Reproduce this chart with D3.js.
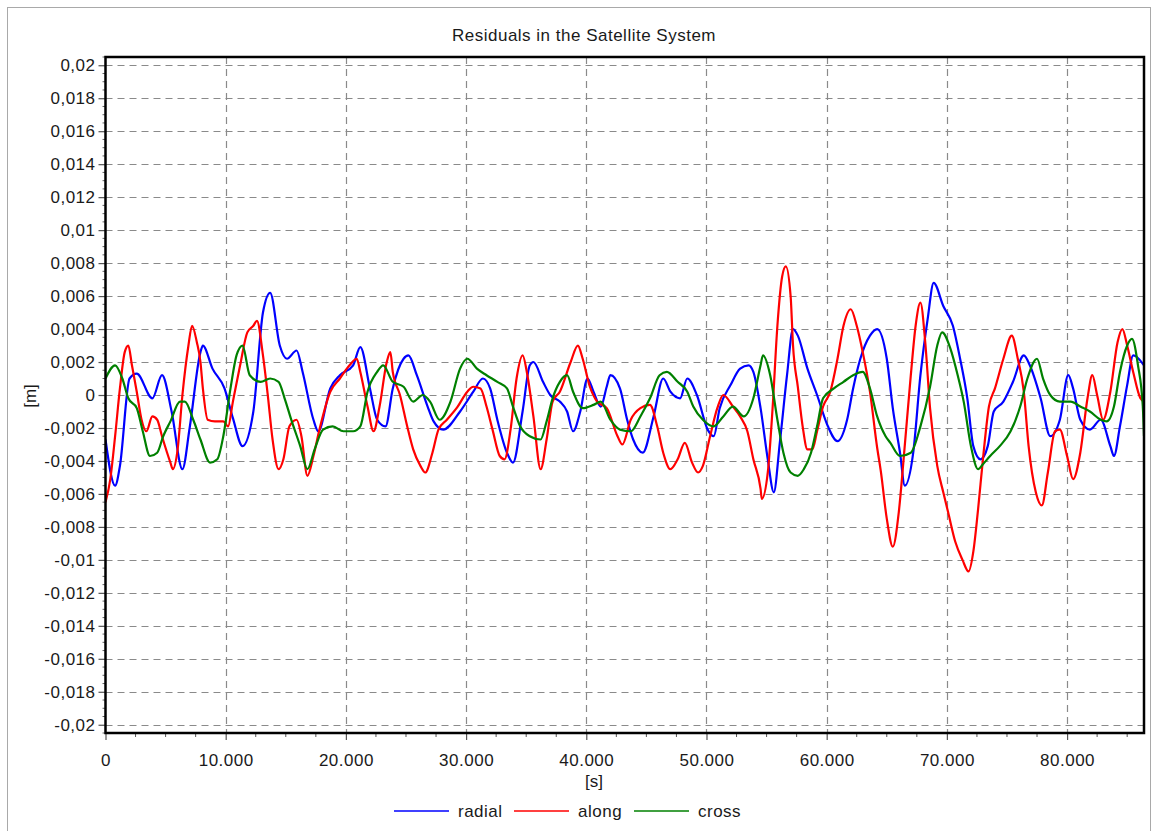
<!DOCTYPE html>
<html>
<head>
<meta charset="utf-8">
<script src="https://cdn.jsdelivr.net/npm/d3@7"></script>
<style>
  html, body { margin: 0; padding: 0; background: #fff; }
  svg { display: block; font-family: "Liberation Sans", Arial, sans-serif; }
</style>
</head>
<body>
<svg id="chart" width="1156" height="831"></svg>
<script>
// Residuals (m) over one day of seconds, per satellite frame component
const radial = [[0,-0.0027],[800,-0.0055],[1200,-0.0043],[2000,0.0010],[2600,0.0013],[3900,-0.0002],[4700,0.0012],[5500,-0.0010],[6400,-0.0045],[7000,-0.0020],[7900,0.0026],[8100,0.0030],[8900,0.0016],[9900,0.0004],[10600,-0.0014],[11400,-0.0031],[12300,-0.0010],[13100,0.0050],[13700,0.0062],[14500,0.0030],[15100,0.0022],[15900,0.0027],[16400,0.0014],[17300,-0.0015],[17700,-0.0022],[18700,0.0004],[19500,0.0012],[20600,0.0018],[21200,0.0029],[22000,0.0004],[22600,-0.0015],[23300,-0.0019],[23900,0.0004],[24800,0.0022],[25200,0.0024],[25900,0.0012],[26800,-0.0007],[27300,-0.0016],[28100,-0.0021],[29500,-0.0010],[30600,0.0002],[31400,0.0010],[32000,0.0004],[32600,-0.0015],[33400,-0.0035],[33900,-0.0041],[34700,-0.0010],[35300,0.0018],[35600,0.0020],[36400,0.0008],[37000,0.0000],[37800,-0.0004],[38400,-0.0010],[38900,-0.0022],[39500,-0.0010],[40100,0.0010],[40600,0.0002],[41200,-0.0007],[41700,0.0005],[42000,0.0012],[42800,0.0004],[43400,-0.0015],[43900,-0.0027],[44700,-0.0035],[45600,-0.0013],[46400,0.0010],[47000,0.0002],[47800,-0.0002],[48400,0.0010],[49200,0.0000],[50100,-0.0021],[50600,-0.0025],[51100,-0.0008],[52000,0.0006],[52800,0.0016],[53500,0.0018],[53900,0.0014],[54500,-0.0008],[55100,-0.0039],[55600,-0.0059],[56100,-0.0029],[56700,0.0012],[57200,0.0040],[57600,0.0036],[58400,0.0016],[59200,0.0000],[60100,-0.0019],[60900,-0.0028],[61700,-0.0015],[62200,0.0004],[62800,0.0022],[63600,0.0036],[64200,0.0040],[65000,0.0022],[65500,-0.0008],[66100,-0.0035],[66500,-0.0055],[67200,-0.0035],[67800,0.0012],[68400,0.0046],[68900,0.0068],[69700,0.0054],[70500,0.0042],[71100,0.0022],[71700,-0.0002],[72200,-0.0031],[72800,-0.0039],[73400,-0.0031],[73900,-0.0010],[74700,-0.0004],[75500,0.0008],[76400,0.0024],[76900,0.0018],[77800,-0.0002],[78600,-0.0025],[79400,-0.0015],[80100,0.0012],[80500,0.0004],[81100,-0.0015],[81900,-0.0021],[82800,-0.0015],[83600,-0.0031],[83900,-0.0037],[84400,-0.0019],[85000,0.0006],[85500,0.0024],[86400,0.0018]];

const along = [[0,-0.0065],[400,-0.0051],[800,-0.0025],[1200,0.0004],[1600,0.0026],[1900,0.0030],[2200,0.0018],[2600,0.0002],[3000,-0.0015],[3400,-0.0022],[3900,-0.0013],[4300,-0.0015],[4700,-0.0025],[5400,-0.0041],[5600,-0.0045],[6000,-0.0033],[6400,0.0000],[6900,0.0030],[7200,0.0042],[7600,0.0032],[7900,0.0020],[8100,0.0004],[8500,-0.0015],[9100,-0.0016],[9800,-0.0016],[10200,-0.0019],[10600,-0.0004],[11200,0.0018],[11800,0.0038],[12300,0.0042],[12600,0.0045],[13100,0.0024],[13500,0.0000],[13900,-0.0027],[14400,-0.0045],[14800,-0.0039],[15300,-0.0019],[15900,-0.0015],[16300,-0.0025],[16800,-0.0049],[17300,-0.0037],[17800,-0.0021],[18700,0.0002],[19500,0.0010],[20300,0.0018],[20900,0.0022],[21200,0.0014],[21800,-0.0007],[22300,-0.0022],[22800,-0.0007],[23400,0.0020],[23700,0.0026],[23900,0.0014],[24500,0.0000],[25100,-0.0019],[25600,-0.0033],[26200,-0.0043],[26600,-0.0047],[27200,-0.0035],[27700,-0.0021],[28400,-0.0015],[29300,-0.0007],[30100,0.0002],[30600,0.0005],[31200,0.0004],[31700,-0.0007],[32200,-0.0021],[32800,-0.0037],[33200,-0.0039],[33700,-0.0021],[34200,0.0010],[34700,0.0024],[35100,0.0012],[35600,-0.0013],[36200,-0.0045],[36700,-0.0027],[37200,-0.0004],[37800,0.0002],[38700,0.0020],[39300,0.0030],[39700,0.0022],[40300,0.0005],[40900,-0.0004],[41700,-0.0008],[42600,-0.0025],[43000,-0.0030],[43700,-0.0015],[44500,-0.0008],[45300,-0.0006],[45900,-0.0019],[46400,-0.0035],[47000,-0.0045],[47600,-0.0039],[48200,-0.0029],[48800,-0.0041],[49300,-0.0047],[49700,-0.0043],[50300,-0.0025],[50900,-0.0008],[51400,0.0000],[52200,-0.0007],[52800,-0.0013],[53400,-0.0022],[53900,-0.0039],[54500,-0.0057],[54600,-0.0063],[55100,-0.0047],[55500,-0.0008],[55900,0.0042],[56300,0.0072],[56600,0.0078],[57000,0.0060],[57200,0.0030],[57600,0.0005],[58000,-0.0019],[58400,-0.0033],[58800,-0.0033],[59200,-0.0022],[59700,-0.0007],[60300,0.0002],[60900,0.0022],[61400,0.0042],[62000,0.0052],[62500,0.0042],[63000,0.0026],[63600,0.0002],[64200,-0.0032],[64500,-0.0046],[65000,-0.0075],[65500,-0.0092],[66000,-0.0071],[66400,-0.0039],[67000,0.0012],[67400,0.0042],[67800,0.0056],[68200,0.0032],[68600,-0.0008],[69200,-0.0043],[69700,-0.0059],[70100,-0.0071],[70700,-0.0089],[71300,-0.0100],[71800,-0.0107],[72200,-0.0095],[72600,-0.0069],[73000,-0.0039],[73500,-0.0007],[74000,0.0004],[74700,0.0022],[75400,0.0036],[75900,0.0022],[76400,0.0002],[76800,-0.0031],[77400,-0.0059],[77900,-0.0067],[78400,-0.0047],[79000,-0.0022],[79400,-0.0021],[80000,-0.0037],[80500,-0.0051],[81100,-0.0035],[81700,-0.0002],[82100,0.0012],[82500,0.0000],[83000,-0.0015],[83600,0.0002],[84200,0.0032],[84600,0.0040],[85000,0.0030],[85500,0.0014],[86100,-0.0002],[86400,-0.0004]];

const cross = [[0,0.0010],[800,0.0018],[1400,0.0010],[1900,-0.0002],[2600,-0.0008],[3100,-0.0022],[3700,-0.0037],[4300,-0.0035],[4800,-0.0025],[5400,-0.0016],[6200,-0.0004],[6600,-0.0004],[7300,-0.0015],[7900,-0.0027],[8700,-0.0041],[9300,-0.0039],[9800,-0.0025],[10400,0.0004],[10900,0.0024],[11400,0.0030],[12000,0.0012],[12900,0.0008],[13700,0.0010],[14400,0.0008],[14900,-0.0002],[15500,-0.0016],[16200,-0.0031],[16800,-0.0045],[17400,-0.0033],[18100,-0.0021],[18900,-0.0019],[19800,-0.0022],[20600,-0.0022],[21200,-0.0019],[21800,0.0002],[22600,0.0014],[23100,0.0018],[23900,0.0008],[24800,0.0005],[25600,-0.0004],[26400,0.0000],[27000,-0.0004],[27800,-0.0015],[28700,-0.0004],[29500,0.0016],[30100,0.0022],[30900,0.0016],[31700,0.0012],[32600,0.0008],[33400,0.0004],[33900,-0.0007],[34500,-0.0019],[35300,-0.0025],[36200,-0.0027],[36700,-0.0016],[37200,-0.0002],[37800,0.0008],[38400,0.0012],[38900,0.0002],[39700,-0.0008],[40600,-0.0006],[41200,-0.0004],[42000,-0.0015],[42800,-0.0021],[43700,-0.0022],[44500,-0.0013],[45300,-0.0002],[46100,0.0012],[46700,0.0014],[47600,0.0008],[48400,0.0002],[48900,-0.0007],[49700,-0.0015],[50600,-0.0019],[51400,-0.0013],[52200,-0.0007],[53100,-0.0013],[53900,-0.0002],[54500,0.0018],[54700,0.0024],[55300,0.0012],[55900,-0.0015],[56400,-0.0035],[57000,-0.0047],[57600,-0.0049],[58100,-0.0045],[58700,-0.0035],[59200,-0.0019],[59700,-0.0002],[60600,0.0004],[61400,0.0008],[62200,0.0012],[63000,0.0014],[63600,0.0004],[64200,-0.0013],[64900,-0.0025],[65300,-0.0029],[66100,-0.0037],[67000,-0.0035],[67800,-0.0019],[68600,0.0005],[69200,0.0030],[69600,0.0038],[70300,0.0028],[70900,0.0012],[71400,-0.0004],[72000,-0.0031],[72600,-0.0045],[73000,-0.0042],[73600,-0.0037],[74400,-0.0031],[75300,-0.0022],[76100,-0.0007],[76700,0.0010],[77500,0.0022],[78000,0.0010],[78600,0.0000],[79400,-0.0004],[80300,-0.0004],[81100,-0.0007],[81900,-0.0010],[82800,-0.0015],[83300,-0.0016],[83900,-0.0007],[84400,0.0014],[85000,0.0030],[85400,0.0034],[85900,0.0018],[86300,-0.0007],[86400,-0.0025]];

const seriesNames = ["radial", "along", "cross"];
const seriesColors = ["#0000ff", "#ff0000", "#008000"];
const xTicks = [0, 10000, 20000, 30000, 40000, 50000, 60000, 70000, 80000];
const yTicks = [-0.02, -0.018, -0.016, -0.014, -0.012, -0.01, -0.008, -0.006, -0.004, -0.002, 0,
                0.002, 0.004, 0.006, 0.008, 0.01, 0.012, 0.014, 0.016, 0.018, 0.02];
const titleText = "Residuals in the Satellite System";
const xLabel = "[s]";
const yLabel = "[m]";

const svg = d3.select("#chart");
const plot = { left: 105.5, right: 1144, top: 57, bottom: 733 };

const locale = d3.formatLocale({ decimal: ",", thousands: ".", grouping: [3], currency: ["", ""], minus: "-" });
const fmtX = locale.format(",d");
const fmtY = locale.format(".3~f");

const x = d3.scaleLinear().domain([0, 86400]).range([plot.left, plot.right]);
const y = d3.scaleLinear().domain([-0.0205, 0.0205]).range([plot.bottom, plot.top]);

// outer frame
svg.append("rect").attr("x", 7.5).attr("y", 7.5).attr("width", 1143).attr("height", 900)
  .attr("fill", "#fff").attr("stroke", "#a9a9a9").attr("stroke-width", 1);

// title
svg.append("text").attr("x", 584).attr("y", 41).attr("text-anchor", "middle")
  .attr("font-size", 17).attr("letter-spacing", 0.5).attr("fill", "#1a1a1a").text(titleText);

// grid
const grid = svg.append("g").attr("stroke", "#8a8a8a").attr("stroke-width", 1.2).attr("stroke-dasharray", "7,5");
grid.selectAll("line.h").data(yTicks).join("line").attr("class", "h")
  .attr("x1", plot.left).attr("x2", plot.right)
  .attr("y1", d => Math.round(y(d)) + 0.5).attr("y2", d => Math.round(y(d)) + 0.5);
grid.selectAll("line.v").data(xTicks.filter(d => d > 0)).join("line").attr("class", "v")
  .attr("y1", plot.top).attr("y2", plot.bottom)
  .attr("x1", d => Math.round(x(d)) + 0.5).attr("x2", d => Math.round(x(d)) + 0.5);

// clip for the series
svg.append("clipPath").attr("id", "plotClip").append("rect")
  .attr("x", plot.left).attr("y", plot.top)
  .attr("width", plot.right - plot.left).attr("height", plot.bottom - plot.top);

const line = d3.line().x(d => x(d[0])).y(d => y(d[1])).curve(d3.curveMonotoneX);
const seriesData = [radial, along, cross];
svg.append("g").attr("clip-path", "url(#plotClip)")
  .selectAll("path").data(seriesData).join("path")
  .attr("d", line).attr("fill", "none")
  .attr("stroke", (d, i) => seriesColors[i]).attr("stroke-width", 2.2)
  .attr("stroke-linejoin", "round");

// axes
const xAxis = d3.axisBottom(x).tickValues(xTicks).tickFormat(fmtX).tickSize(7).tickPadding(14);
const gx = svg.append("g").attr("transform", `translate(0,${plot.bottom})`).call(xAxis);
const xMinor = d3.range(0, 86401, 2500).filter(d => d % 10000 !== 0);
svg.append("g").selectAll("line").data(xMinor).join("line")
  .attr("x1", d => x(d)).attr("x2", d => x(d))
  .attr("y1", plot.bottom).attr("y2", plot.bottom + 4)
  .attr("stroke", "#555").attr("stroke-width", 1);

const yAxis = d3.axisLeft(y).tickValues(yTicks).tickFormat(fmtY).tickSize(7).tickPadding(3);
const gy = svg.append("g").attr("transform", `translate(${plot.left},0)`).call(yAxis);
const yMinor = d3.range(-0.0205, 0.0206, 0.0005).filter(d => Math.abs(Math.round(d * 1e4) % 20) !== 0);
svg.append("g").selectAll("line").data(yMinor).join("line")
  .attr("x1", plot.left - 3).attr("x2", plot.left)
  .attr("y1", d => y(d)).attr("y2", d => y(d))
  .attr("stroke", "#666").attr("stroke-width", 1);

[gx, gy].forEach(g => {
  g.select(".domain").remove();
  g.selectAll(".tick line").attr("stroke", "#555").attr("stroke-width", 1.2);
  g.selectAll(".tick text").attr("font-size", 17).attr("letter-spacing", 0.5)
    .attr("fill", "#1a1a1a").attr("font-family", "Liberation Sans, Arial, sans-serif");
});

// plot border
svg.append("rect").attr("x", plot.left).attr("y", plot.top)
  .attr("width", plot.right - plot.left).attr("height", plot.bottom - plot.top)
  .attr("fill", "none").attr("stroke", "#000").attr("stroke-width", 2.5);

// axis titles
svg.append("text").attr("x", 594).attr("y", 787).attr("text-anchor", "middle")
  .attr("font-size", 17).attr("fill", "#1a1a1a").text(xLabel);
svg.append("text").attr("transform", "translate(36,396) rotate(-90)").attr("text-anchor", "middle")
  .attr("font-size", 17).attr("fill", "#1a1a1a").text(yLabel);

// legend
const legendX = [394, 514, 634];
const leg = svg.append("g").selectAll("g").data(seriesNames).join("g")
  .attr("transform", (d, i) => `translate(${legendX[i]},811)`);
leg.append("line").attr("x1", 0).attr("x2", 55).attr("y1", 0).attr("y2", 0)
  .attr("stroke", (d, i) => seriesColors[i]).attr("stroke-width", 1.5);
leg.append("text").attr("x", 64).attr("y", 6).attr("font-size", 17).attr("letter-spacing", 0.5)
  .attr("fill", "#1a1a1a").text(d => d);
</script>
</body>
</html>
